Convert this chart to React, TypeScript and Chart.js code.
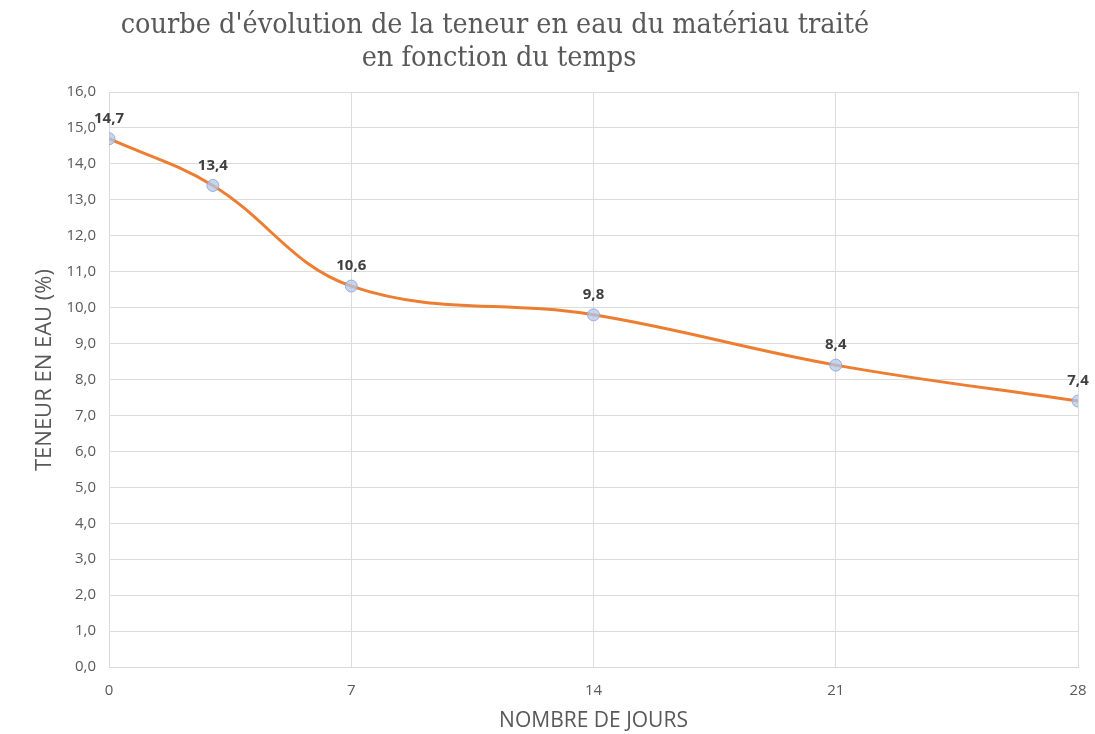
import React, { useEffect, useRef } from "react";
import { Chart, registerables } from "chart.js";

Chart.register(...registerables);

const days = [0, 3, 7, 14, 21, 28];
const waterContent = [14.7, 13.4, 10.6, 9.8, 8.4, 7.4];
const xTicks = [0, 7, 14, 21, 28];
const titleLines = [
  "courbe d'évolution de la teneur en eau du matériau traité",
  "en fonction du temps",
];
const yAxisTitle = "TENEUR EN EAU (%)";
const xAxisTitle = "NOMBRE DE JOURS";

const fmt = (v: number) => v.toFixed(1).replace(".", ",");

const titlePlugin = {
  id: "customTitle",
  afterDraw(chart: any) {
    const ctx = chart.ctx;
    ctx.save();
    ctx.fillStyle = "#595959";
    ctx.font = "28.5px 'DejaVu Serif Condensed', 'DejaVu Serif', serif";
    ctx.textAlign = "center";
    ctx.textBaseline = "middle";
    ctx.fillText(titleLines[0], 495, 26);
    ctx.fillText(titleLines[1], 499, 59);
    // y axis title
    ctx.font = "22px 'Open Sans', sans-serif";
    ctx.translate(45, 370);
    ctx.rotate(-Math.PI / 2);
    ctx.fillText(yAxisTitle, 0, 0);
    ctx.restore();
  },
};

const labelPlugin = {
  id: "pointLabels",
  afterDatasetsDraw(chart: any) {
    const ctx = chart.ctx;
    const meta = chart.getDatasetMeta(0);
    ctx.save();
    ctx.fillStyle = "#404040";
    ctx.font = "bold 15px 'Open Sans', sans-serif";
    ctx.textAlign = "center";
    ctx.textBaseline = "middle";
    meta.data.forEach((pt: any, i: number) => {
      ctx.fillText(fmt(waterContent[i]), pt.x, pt.y - 20);
    });
    ctx.restore();
  },
};

export default function App() {
  const ref = useRef<HTMLCanvasElement>(null);
  useEffect(() => {
    if (!ref.current) return;
    const chart = new Chart(ref.current, {
      type: "line",
      data: {
        datasets: [
          {
            data: days.map((d, i) => ({ x: d, y: waterContent[i] })),
            borderColor: "#ed7d31",
            borderWidth: 3,
            tension: 0.38,
            pointRadius: 6,
            pointBackgroundColor: "rgba(180,199,231,0.75)",
            pointBorderColor: "rgba(143,170,220,0.9)",
            pointBorderWidth: 1,
          },
        ],
      },
      options: {
        animation: false,
        responsive: false,
        layout: { padding: { top: 92, right: 17, left: 0, bottom: 0 } },
        plugins: { legend: { display: false }, tooltip: { enabled: false }, title: { display: false } },
        scales: {
          x: {
            type: "linear",
            min: 0,
            max: 28,
            afterBuildTicks: (s: any) => {
              s.ticks = xTicks.map((v) => ({ value: v }));
            },
            afterFit: (s: any) => {
              s.height = 67;
              s.paddingLeft = 0;
              s.paddingRight = 0;
            },
            grid: { color: "#dcdcdc", drawTicks: false },
            border: { color: "#d9d9d9" },
            ticks: { color: "#595959", font: { family: "'Open Sans', sans-serif", size: 15 }, padding: 15, maxRotation: 0 },
            title: {
              display: true,
              text: xAxisTitle,
              color: "#595959",
              font: { family: "'Open Sans', sans-serif", size: 21 },
              padding: { top: 1, bottom: 0 },
            },
          },
          y: {
            min: 0,
            max: 16,
            ticks: {
              stepSize: 1,
              color: "#595959",
              font: { family: "'Open Sans', sans-serif", size: 15 },
              padding: 13,
              callback: (v: any) => fmt(Number(v)),
            },
            afterFit: (s: any) => {
              s.width = 109;
              s.paddingTop = 0;
              s.paddingBottom = 0;
            },
            grid: { color: "#dcdcdc", drawTicks: false },
            border: { color: "#d9d9d9" },
            title: { display: false },
          },
        },
      },
      plugins: [titlePlugin, labelPlugin],
    } as any);
    return () => chart.destroy();
  }, []);
  return (
    <div style={{ position: "fixed", left: 0, top: 0, width: 1095, height: 734, background: "#fff" }}>
      <canvas ref={ref} width={1095} height={734} />
    </div>
  );
}
